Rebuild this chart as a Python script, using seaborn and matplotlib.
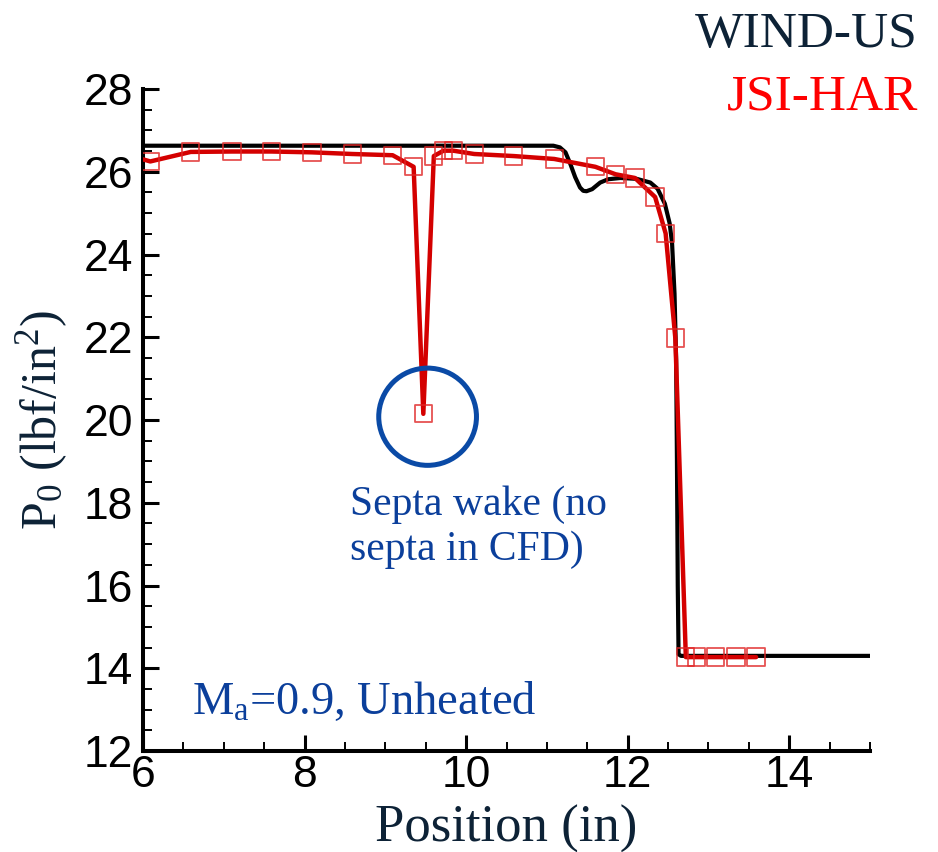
import matplotlib
matplotlib.use("Agg")
import matplotlib.pyplot as plt
from matplotlib.patches import Ellipse
from matplotlib.ticker import MultipleLocator
import numpy as np
import pandas as pd
import seaborn as sns

# WIND-US total pressure along the probe traverse
wind_x = [6.0, 11.0, 11.08, 11.16, 11.23, 11.29, 11.35, 11.41, 11.45, 11.49, 11.56,
          11.66, 11.76, 11.91, 12.11, 12.28, 12.37, 12.46, 12.52, 12.55, 12.58,
          12.60, 12.61, 12.62, 12.63, 12.66, 13.5, 15.0]
wind_y = [26.63, 26.63, 26.63, 26.59, 26.47, 26.19, 25.87, 25.62, 25.54, 25.53, 25.58,
          25.74, 25.82, 25.85, 25.83, 25.74, 25.59, 25.23, 24.75, 24.26, 23.05,
          21.45, 19.0, 16.0, 14.34, 14.30, 14.30, 14.30]

# JSI-HAR rake measurements
har_x = [6.09, 6.59, 7.10, 7.59, 8.09, 8.59, 9.09, 9.35, 9.47, 9.60, 9.72, 9.84,
         10.10, 10.59, 11.09, 11.60, 11.85, 12.09, 12.34, 12.47, 12.59, 12.72,
         12.85, 13.09, 13.34, 13.59]
har_y = [26.25, 26.48, 26.49, 26.49, 26.47, 26.43, 26.40, 26.12, 20.15, 26.38, 26.51,
         26.51, 26.43, 26.38, 26.31, 26.12, 25.94, 25.85, 25.39, 24.51, 21.98, 14.27,
         14.27, 14.27, 14.27, 14.27]
# value where the measured line enters the plotted range
har_start_x = [6.0]
har_start_y = [26.30]

x_ticks = [6, 8, 10, 12, 14]
y_ticks = [12, 14, 16, 18, 20, 22, 24, 26, 28]

NAVY = "#0d2236"
BLUE = "#0b3f9b"
CIRCLE = "#0a4aa6"
RED_LINE = "#d40000"
RED_MARK = "#e02626"

sns.set_style("ticks", {"xtick.direction": "in", "ytick.direction": "in"})
plt.rcParams["font.family"] = ["Liberation Serif", "DejaVu Serif"]
plt.rcParams["mathtext.fontset"] = "custom"
plt.rcParams["mathtext.rm"] = "Liberation Serif"
plt.rcParams["mathtext.it"] = "Liberation Serif:italic"
plt.rcParams["mathtext.bf"] = "Liberation Serif:bold"

wind = pd.DataFrame({"x": wind_x, "y": wind_y})
har_line = pd.DataFrame({"x": har_start_x + har_x, "y": har_start_y + har_y})
har_pts = pd.DataFrame({"x": har_x, "y": har_y})

fig = plt.figure(figsize=(9.38, 8.52), dpi=100)
ax = fig.add_axes([0.1525, 0.1185, 0.775, 0.777])

sns.lineplot(data=wind, x="x", y="y", sort=False, color="black", lw=3.0, ax=ax,
             zorder=3)
sns.lineplot(data=har_line, x="x", y="y", sort=False, color=RED_LINE, lw=3.2, ax=ax,
             zorder=4)
sns.scatterplot(data=har_pts, x="x", y="y", marker="s", s=155, facecolors="none",
                edgecolor=RED_MARK, linewidth=1.3, alpha=0.8, ax=ax, zorder=5)

ax.set_xlim(6, 15)
ax.set_ylim(12, 28)
ax.set_xticks(x_ticks)
ax.set_yticks(y_ticks)
ax.xaxis.set_minor_locator(MultipleLocator(0.5))
ax.yaxis.set_minor_locator(MultipleLocator(0.5))
ax.tick_params(which="major", direction="in", length=11.5, width=2.2, color="black")
ax.tick_params(which="minor", direction="in", length=6.5, width=1.4, color="black")
ax.tick_params(axis="y", which="major", pad=7)
ax.tick_params(axis="x", which="major", pad=3)
for lab in ax.get_xticklabels() + ax.get_yticklabels():
    lab.set_fontfamily("Liberation Sans")
    lab.set_fontsize(32)
    lab.set_color("black")

sns.despine(ax=ax)
for side in ("left", "bottom"):
    ax.spines[side].set_linewidth(2.9)
    ax.spines[side].set_color("black")

ax.set_xlabel("Position (in)", fontsize=38, color=NAVY, labelpad=6)
ax.set_ylabel("P$_0$ (lbf/in$^2$)", fontsize=36, color=NAVY, labelpad=10)

ax.add_patch(Ellipse((9.523, 20.08), width=1.21, height=2.35, fill=False,
                     edgecolor=CIRCLE, lw=3.6, zorder=6))
ax.text(8.56, 17.70, "Septa wake (no", fontsize=30, color=BLUE, ha="left",
        va="baseline")
ax.text(8.56, 16.63, "septa in CFD)", fontsize=30, color=BLUE, ha="left",
        va="baseline")
ax.text(6.60, 12.906, "M$_\\mathrm{a}$=0.9, Unheated", fontsize=33.5, color=BLUE,
        ha="left", va="baseline")

fig.text(0.9787, 0.9448, "WIND-US", fontsize=37, color=NAVY, ha="right",
         va="baseline")
fig.text(0.9787, 0.8709, "JSI-HAR", fontsize=37, color="#ff0000", ha="right",
         va="baseline")

fig.savefig("out.png", dpi=100)
